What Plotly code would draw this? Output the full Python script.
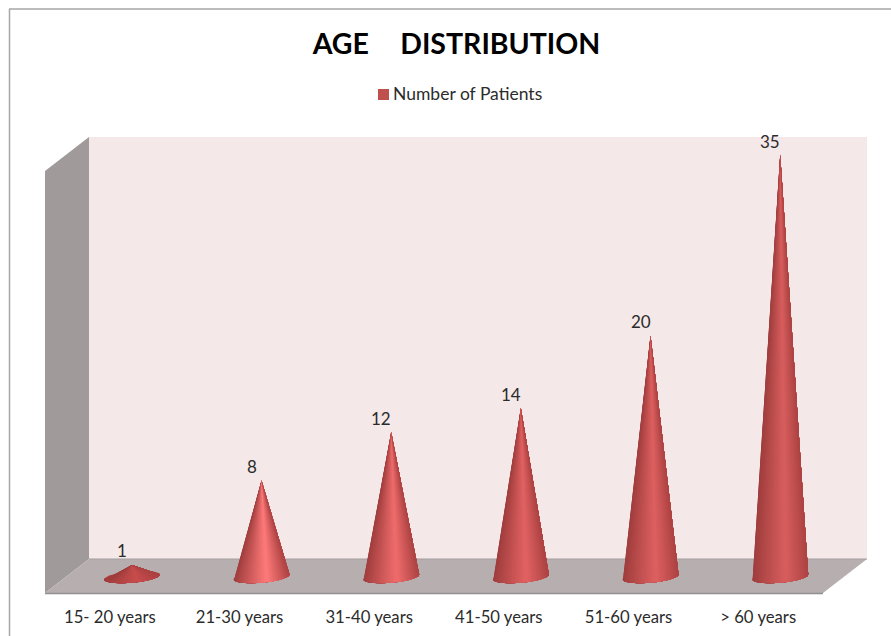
import math
import plotly.graph_objects as go

# --- data ---
categories = ["15- 20 years", "21-30 years", "31-40 years", "41-50 years", "51-60 years", "> 60 years"]
patients = [1, 8, 12, 14, 20, 35]
series_name = "Number of Patients"
chart_title = "AGE\u00a0\u00a0\u00a0\u00a0\u2009DISTRIBUTION"

# --- style ---
W, H = 891, 636
FONT = "Lato, Carlito, Calibri, sans-serif"
TEXT = "#2b2b2b"
EDGE_LEFT = (158, 60, 60)
EDGE_RIGHT = (172, 66, 66)
HIGHLIGHTS = [(200, 76, 76), (255, 122, 122), (240, 108, 108), (226, 98, 98), (222, 96, 96), (216, 94, 94)]
HALF_WIDTH = 0.216
BASE_DEPTH = 0.48
BASE_TILT = 0.2
STRIPS = 36
Y_PAD = 2  # extra axis room so the rounded cone bases are not clipped
PX_PER_UNIT = (577 - 155) / 35


def px(x):
    return x / W


def py(y):
    return 1 - y / H


def shade(t, light):
    if t < 0.6:
        s, edge = t / 0.6, EDGE_LEFT
    else:
        s, edge = (1 - t) / 0.4, EDGE_RIGHT
    s = s ** 0.95
    return "rgb(%d,%d,%d)" % tuple(round(d + (l - d) * s) for d, l in zip(edge, light))


def base_point(i, a):
    return i + HALF_WIDTH * math.cos(a), BASE_TILT * math.cos(a) + BASE_DEPTH * math.sin(a)


fig = go.Figure()

# legend entry (text only; its swatch is the square shape below, set tight to the text as in the original)
fig.add_trace(go.Scatter(x=[None], y=[None], mode="markers", name=series_name, showlegend=True,
                         marker=dict(symbol="square", size=1, color="rgba(0,0,0,0)"), xaxis="x", yaxis="y"))

# cones: painted left to right, each layer covering the rest of the front surface, so no seams
for i, (value, light) in enumerate(zip(patients, HIGHLIGHTS)):
    ring = [base_point(i, 2 * math.pi * k / 60) for k in range(61)]
    fig.add_trace(go.Scatter(x=[p[0] for p in ring], y=[p[1] for p in ring], mode="lines", fill="toself",
                             fillcolor="rgb(170,62,62)", line=dict(width=0),
                             hoverinfo="skip", showlegend=False, xaxis="x2", yaxis="y2"))
    for k in range(STRIPS):
        angles = [math.pi + math.pi * j / STRIPS for j in range(k, STRIPS + 1)]
        pts = [base_point(i, a) for a in angles]
        t = (math.cos(angles[0]) + math.cos(angles[1]) + 2) / 4
        col = shade(t, light)
        fig.add_trace(go.Scatter(x=[i] + [p[0] for p in pts] + [i], y=[value] + [p[1] for p in pts] + [value],
                                 mode="lines", fill="toself", fillcolor=col, line=dict(width=0),
                                 hoverinfo="skip", showlegend=False, xaxis="x2", yaxis="y2"))

# walls and frame
wall = lambda pts: "M " + " L ".join(f"{px(x):.5f},{py(y):.5f}" for x, y in pts) + " Z"
shapes = [
    dict(type="path", path=wall([(89, 137), (867, 137), (867, 559), (89, 559)]),
         fillcolor="#f4e8e8", line=dict(width=0)),
    dict(type="path", path=wall([(45, 171), (89, 137), (89, 559), (45, 593)]),
         fillcolor="#a09a9a", line=dict(width=0)),
    dict(type="path", path=wall([(45, 593), (89, 559), (867, 559), (823, 593)]),
         fillcolor="#b7afaf", line=dict(width=0)),
    dict(type="line", x0=px(89), x1=px(867), y0=py(559), y1=py(559), line=dict(color="#a5a0a0", width=1)),
    dict(type="line", x0=px(45), x1=px(823), y0=py(593.5), y1=py(593.5), line=dict(color="#8f8f8f", width=1.5)),
    dict(type="line", x0=px(9.5), x1=px(9.5), y0=py(9), y1=py(636), line=dict(color="#a6a6a6", width=1.5)),
    dict(type="line", x0=px(9), x1=px(891), y0=py(9), y1=py(9), line=dict(color="#a6a6a6", width=1.5)),
    dict(type="rect", x0=px(378), x1=px(389), y0=py(89), y1=py(100), fillcolor="#c0504d", line=dict(width=0)),
]
for s in shapes:
    s.update(xref="paper", yref="paper", layer="below")

annotations = [
    dict(x=i, y=v, xref="x2", yref="y2", text=str(v), showarrow=False, xshift=-10, yshift=14,
         xanchor="center", yanchor="middle", font=dict(family=FONT, size=17, color=TEXT))
    for i, v in enumerate(patients)
]

hidden = dict(visible=False, showgrid=False, zeroline=False, fixedrange=True)
fig.update_layout(
    width=W, height=H, margin=dict(l=0, r=0, t=0, b=0), autosize=False,
    paper_bgcolor="white", plot_bgcolor="rgba(0,0,0,0)",
    shapes=shapes, annotations=annotations, hovermode=False,
    title=dict(text=chart_title, x=px(456.5), xanchor="center", y=py(44.5), yanchor="middle",
               font=dict(family=FONT, size=28.5, color="#000000", weight="bold")),
    legend=dict(x=px(353), y=py(93.5), xanchor="left", yanchor="middle", orientation="h",
                bgcolor="rgba(0,0,0,0)", itemwidth=30,
                font=dict(family=FONT, size=17.5, color=TEXT)),
    xaxis=dict(domain=[px(45), px(823)], range=[-0.5, 5.5], tickmode="array",
               tickvals=list(range(len(categories))), ticktext=categories,
               showgrid=False, zeroline=False, showline=False, ticks="outside", ticklen=9,
               tickcolor="rgba(0,0,0,0)", tickfont=dict(family=FONT, size=16.7, color=TEXT), fixedrange=True),
    yaxis=dict(domain=[py(593), py(171)], range=[0, 35], **hidden),
    xaxis2=dict(domain=[px(67), px(845)], range=[-0.5, 5.5], anchor="y2", **hidden),
    yaxis2=dict(domain=[py(577 + Y_PAD * PX_PER_UNIT), py(155)], range=[-Y_PAD, 35], anchor="x2", **hidden),
)

fig.write_html("out.html", config=dict(displayModeBar=False),
               post_script="document.body.style.margin='0';document.body.style.overflow='hidden';")
